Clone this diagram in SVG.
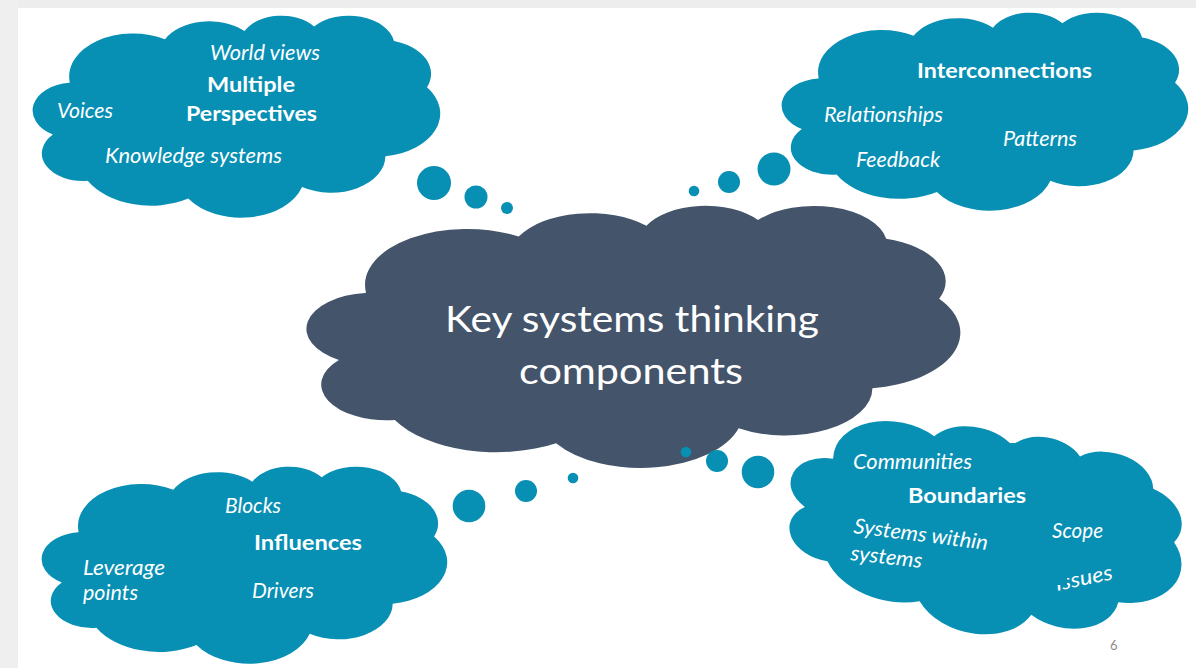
<svg xmlns="http://www.w3.org/2000/svg" width="1196" height="668" viewBox="0 0 1196 668">
<style>
.teal{fill:#078FB4}
.dark{fill:#44546A}
text{fill:#FFFFFF;font-family:Lato,"Open Sans","Liberation Sans",sans-serif}
.it{font-style:italic;font-size:21px}
.bd{font-weight:bold;font-size:21px}
.ctr{font-size:37px}
.pg{fill:#8C8C8C;font-size:13px}
</style>
<defs>
<path id="cloud" d="M 9.03 33.26 A 15.632 21.273 0 0 1 32.42 12.04 A 12.345 16.822 0 0 1 51.98 7.94 A 10.104 13.762 0 0 1 69.06 5.74 A 11.243 15.266 0 0 1 88.70 12.91 A 12.345 16.836 0 0 1 96.81 35.78 A 15.683 21.343 0 0 1 86.59 69.91 A 13.391 18.211 0 0 1 66.10 85.21 A 15.630 21.331 0 0 1 38.15 90.89 A 17.870 24.405 0 0 1 13.44 82.10 A 10.093 13.699 0 0 1 4.89 59.14 A 10.058 13.762 0 0 1 8.94 33.57 Z"/>
<clipPath id="issuesClip">
<rect x="1067" y="555" width="80" height="60"/>
<rect x="1040" y="585" width="100" height="20"/>
</clipPath>
</defs>
<g id="background">
<rect x="0" y="0" width="1196" height="668" fill="#FFFFFF"/>
<rect x="0" y="0" width="1196" height="8" fill="#EDEDED"/>
<rect x="0" y="0" width="18" height="668" fill="#EFEFEF"/>
</g>
<g id="node-center">
<use href="#cloud" class="dark" transform="translate(307,205) scale(6.53,2.62)"/>
<text class="ctr" x="445" y="332" textLength="374" lengthAdjust="spacingAndGlyphs">Key systems thinking</text>
<text class="ctr" x="519" y="384" textLength="224" lengthAdjust="spacingAndGlyphs">components</text>
</g>
<g id="node-perspectives">
<use href="#cloud" class="teal" transform="translate(33,15) scale(4.07,2.02)"/>
<text class="it" x="210" y="60" textLength="110" lengthAdjust="spacingAndGlyphs">World views</text>
<text class="bd" x="207" y="92" textLength="88" lengthAdjust="spacingAndGlyphs">Multiple</text>
<text class="bd" x="186" y="121" textLength="131" lengthAdjust="spacingAndGlyphs">Perspectives</text>
<text class="it" x="57" y="118" textLength="56" lengthAdjust="spacingAndGlyphs">Voices</text>
<text class="it" x="105" y="163" textLength="177" lengthAdjust="spacingAndGlyphs">Knowledge systems</text>
</g>
<g id="node-interconnections">
<use href="#cloud" class="teal" transform="translate(782,12) scale(4.06,1.98)"/>
<text class="bd" x="917" y="78" textLength="175" lengthAdjust="spacingAndGlyphs">Interconnections</text>
<text class="it" x="824" y="122" textLength="119" lengthAdjust="spacingAndGlyphs">Relationships</text>
<text class="it" x="1003" y="146" textLength="74" lengthAdjust="spacingAndGlyphs">Patterns</text>
<text class="it" x="856" y="167" textLength="84" lengthAdjust="spacingAndGlyphs">Feedback</text>
</g>
<g id="node-influences">
<use href="#cloud" class="teal" transform="translate(42,466) scale(4.05,1.97)"/>
<text class="it" x="225" y="513" textLength="56" lengthAdjust="spacingAndGlyphs">Blocks</text>
<text class="bd" x="254" y="550" textLength="108" lengthAdjust="spacingAndGlyphs">Influences</text>
<text class="it" x="83" y="575" textLength="82" lengthAdjust="spacingAndGlyphs">Leverage</text>
<text class="it" x="83" y="600" textLength="55" lengthAdjust="spacingAndGlyphs">points</text>
<text class="it" x="252" y="598" textLength="62" lengthAdjust="spacingAndGlyphs">Drivers</text>
</g>
<g id="node-boundaries">
<use href="#cloud" class="teal" transform="translate(985,529) rotate(13) translate(-200,-104) scale(4,2.08)"/>
<rect class="teal" x="1003" y="443" width="35" height="30"/>
<text class="it" x="853" y="469" textLength="119" lengthAdjust="spacingAndGlyphs">Communities</text>
<text class="bd" x="908" y="503" textLength="118" lengthAdjust="spacingAndGlyphs">Boundaries</text>
<text class="it" x="1052" y="538" textLength="51" lengthAdjust="spacingAndGlyphs">Scope</text>
<text class="it" x="853" y="533" transform="rotate(7.2 853 533)" textLength="135" lengthAdjust="spacingAndGlyphs">Systems within</text>
<text class="it" x="850" y="560" transform="rotate(6.3 850 560)" textLength="72" lengthAdjust="spacingAndGlyphs">systems</text>
<g clip-path="url(#issuesClip)">
<text class="it" x="1057" y="591" transform="rotate(-12 1057 591)" textLength="58" lengthAdjust="spacingAndGlyphs">Issues</text>
</g>
</g>
<g id="connectors">
<circle class="teal" cx="434" cy="183" r="17"/>
<circle class="teal" cx="476" cy="197" r="11.5"/>
<circle class="teal" cx="507" cy="208" r="6"/>
<circle class="teal" cx="774" cy="169" r="16.5"/>
<circle class="teal" cx="729" cy="182" r="11"/>
<circle class="teal" cx="694" cy="191" r="5.3"/>
<circle class="teal" cx="469" cy="506" r="16.3"/>
<circle class="teal" cx="526" cy="491" r="11"/>
<circle class="teal" cx="573" cy="478" r="5.3"/>
<circle class="teal" cx="686" cy="452" r="5.3"/>
<circle class="teal" cx="717" cy="461" r="11"/>
<circle class="teal" cx="758" cy="472" r="16.3"/>
</g>
<text class="pg" x="1110" y="650">6</text>
</svg>
